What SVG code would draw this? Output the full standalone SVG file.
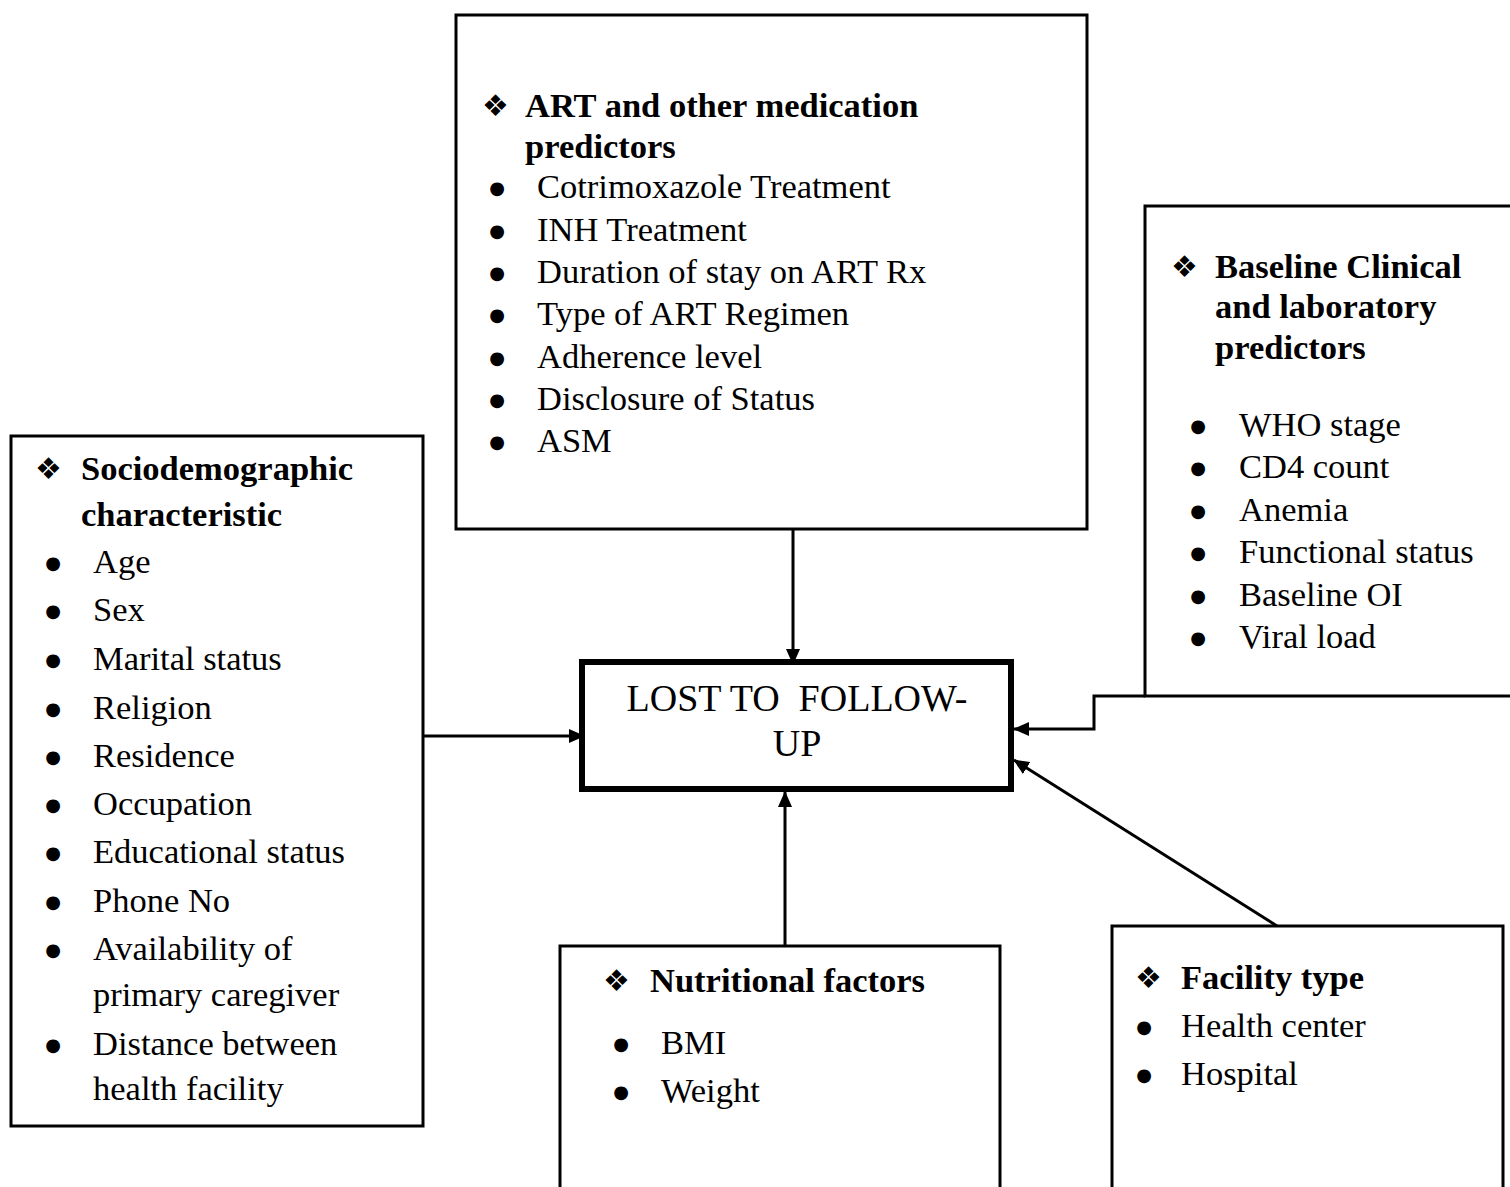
<svg xmlns="http://www.w3.org/2000/svg" width="1510" height="1187" viewBox="0 0 1510 1187">
<style>
.box{fill:#fff;stroke:#000;stroke-width:3}
.main{fill:#fff;stroke:#000;stroke-width:6}
.h{font-family:"Liberation Serif","Times New Roman",serif;font-size:34.5px;font-weight:bold;fill:#000}
.t{font-family:"Liberation Serif","Times New Roman",serif;font-size:34.5px;fill:#000}
.b{font-family:"DejaVu Sans",sans-serif;font-size:18px;fill:#000}
.m{font-family:"Liberation Serif","Times New Roman",serif;font-size:38px;fill:#000}
.d{font-family:"DejaVu Sans",sans-serif;font-size:30px;fill:#000}
.c{fill:none;stroke:#000;stroke-width:3}
</style>
<defs>
<marker id="ah" markerUnits="userSpaceOnUse" markerWidth="16" markerHeight="14" refX="15" refY="7" orient="auto">
<path d="M0,0 L16,7 L0,14 Z" fill="#000"/>
</marker>
</defs>
<g id="connectors">
<line class="c" x1="793" y1="529" x2="793" y2="664" marker-end="url(#ah)"/>
<line class="c" x1="423" y1="736" x2="584" y2="736" marker-end="url(#ah)"/>
<polyline class="c" points="1145,696 1094,696 1094,729 1014,729" marker-end="url(#ah)"/>
<line class="c" x1="785" y1="946" x2="785" y2="792" marker-end="url(#ah)"/>
<line class="c" x1="1277" y1="926" x2="1014" y2="760" marker-end="url(#ah)"/>
</g>
<g id="art">
<rect class="box" x="456" y="15" width="631" height="514"/>
<text class="d" x="482" y="116">❖</text>
<text class="h" x="525" y="117">ART and other medication</text>
<text class="h" x="525" y="158">predictors</text>
<g class="b" text-anchor="middle">
<text x="497" y="194">●</text><text x="497" y="237">●</text><text x="497" y="279">●</text><text x="497" y="321">●</text><text x="497" y="364">●</text><text x="497" y="406">●</text><text x="497" y="448">●</text>
</g>
<g class="t">
<text x="537" y="198">Cotrimoxazole Treatment</text>
<text x="537" y="241">INH Treatment</text>
<text x="537" y="283">Duration of stay on ART Rx</text>
<text x="537" y="325">Type of ART Regimen</text>
<text x="537" y="368">Adherence level</text>
<text x="537" y="410">Disclosure of Status</text>
<text x="537" y="452">ASM</text>
</g>
</g>
<g id="baseline">
<rect class="box" x="1145" y="206" width="380" height="490"/>
<text class="d" x="1171" y="277">❖</text>
<text class="h" x="1215" y="278">Baseline Clinical</text>
<text class="h" x="1215" y="318">and laboratory</text>
<text class="h" x="1215" y="359">predictors</text>
<g class="b" text-anchor="middle">
<text x="1198" y="432">●</text><text x="1198" y="474">●</text><text x="1198" y="517">●</text><text x="1198" y="559">●</text><text x="1198" y="602">●</text><text x="1198" y="644">●</text>
</g>
<g class="t">
<text x="1239" y="436">WHO stage</text>
<text x="1239" y="478">CD4 count</text>
<text x="1239" y="521">Anemia</text>
<text x="1239" y="563">Functional status</text>
<text x="1239" y="606">Baseline OI</text>
<text x="1239" y="648">Viral load</text>
</g>
</g>
<g id="socio">
<rect class="box" x="11" y="436" width="412" height="690"/>
<text class="d" x="35" y="479">❖</text>
<text class="h" x="81" y="480">Sociodemographic</text>
<text class="h" x="81" y="526">characteristic</text>
<g class="b" text-anchor="middle">
<text x="53" y="569">●</text><text x="53" y="617">●</text><text x="53" y="666">●</text><text x="53" y="715">●</text><text x="53" y="763">●</text><text x="53" y="811">●</text><text x="53" y="859">●</text><text x="53" y="908">●</text><text x="53" y="956">●</text><text x="53" y="1051">●</text>
</g>
<g class="t">
<text x="93" y="573">Age</text>
<text x="93" y="621">Sex</text>
<text x="93" y="670">Marital status</text>
<text x="93" y="719">Religion</text>
<text x="93" y="767">Residence</text>
<text x="93" y="815">Occupation</text>
<text x="93" y="863">Educational status</text>
<text x="93" y="912">Phone No</text>
<text x="93" y="960">Availability of</text>
<text x="93" y="1006">primary caregiver</text>
<text x="93" y="1055">Distance between</text>
<text x="93" y="1100">health facility</text>
</g>
</g>
<g id="ltfu">
<rect class="main" x="582" y="662" width="429" height="127"/>
<text class="m" x="797" y="711" text-anchor="middle" xml:space="preserve">LOST TO  FOLLOW-</text>
<text class="m" x="797" y="756" text-anchor="middle">UP</text>
</g>
<g id="nutrition">
<rect class="box" x="560" y="946" width="440" height="260"/>
<text class="d" x="603" y="991">❖</text>
<text class="h" x="650" y="992">Nutritional factors</text>
<g class="b" text-anchor="middle">
<text x="621" y="1050">●</text><text x="621" y="1098">●</text>
</g>
<g class="t">
<text x="661" y="1054">BMI</text>
<text x="661" y="1102">Weight</text>
</g>
</g>
<g id="facility">
<rect class="box" x="1112" y="926" width="391" height="280"/>
<text class="d" x="1135" y="988">❖</text>
<text class="h" x="1181" y="989">Facility type</text>
<g class="b" text-anchor="middle">
<text x="1144" y="1033">●</text><text x="1144" y="1081">●</text>
</g>
<g class="t">
<text x="1181" y="1037">Health center</text>
<text x="1181" y="1085">Hospital</text>
</g>
</g>
</svg>
